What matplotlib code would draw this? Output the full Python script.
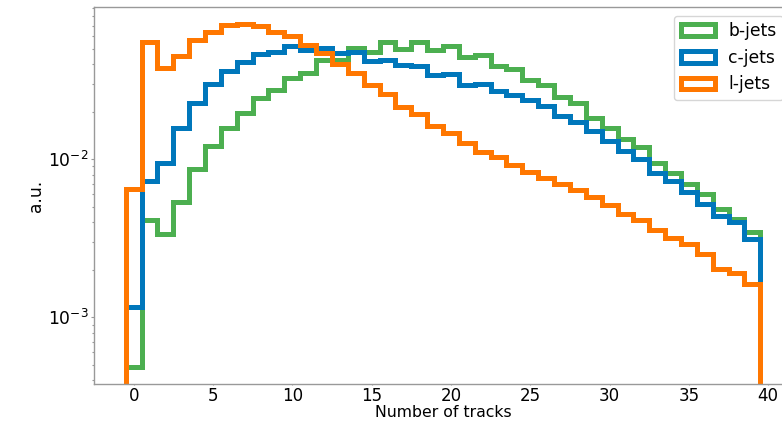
import matplotlib
matplotlib.use("Agg")
import matplotlib.pyplot as plt
import numpy as np

# Histogram bin edges (number of tracks 0..39, unit width)
edges = np.arange(-0.5, 40.5, 1.0)

# Normalised fractions per bin
b_jets = [0.000485, 0.00415, 0.00338, 0.00533, 0.00865, 0.0121, 0.0158, 0.0197,
          0.0244, 0.0273, 0.0327, 0.0351, 0.0422, 0.0426, 0.0504, 0.0473,
          0.0555, 0.0497, 0.0555, 0.0492, 0.0521, 0.0446, 0.0457, 0.0386,
          0.0374, 0.0318, 0.0296, 0.0248, 0.0227, 0.0183, 0.0158, 0.0134,
          0.0119, 0.00953, 0.00824, 0.00696, 0.00602, 0.00485, 0.0042, 0.00347]
c_jets = [0.00117, 0.00731, 0.0094, 0.0158, 0.0227, 0.0299, 0.0359, 0.0409,
          0.0462, 0.0476, 0.0523, 0.0492, 0.0504, 0.0469, 0.0478, 0.0420,
          0.0426, 0.0392, 0.0386, 0.0343, 0.0348, 0.0296, 0.0301, 0.0269,
          0.0254, 0.0238, 0.0216, 0.0187, 0.0171, 0.0151, 0.0130, 0.0113,
          0.0100, 0.00824, 0.00731, 0.00617, 0.00521, 0.0044, 0.0040, 0.00314]
l_jets = [0.00647, 0.0547, 0.0377, 0.0451, 0.0569, 0.0641, 0.0703, 0.0716,
          0.0700, 0.0641, 0.0603, 0.0529, 0.0469, 0.0400, 0.0352, 0.0296,
          0.0257, 0.0214, 0.0192, 0.0162, 0.0146, 0.0127, 0.0111, 0.0103,
          0.00917, 0.00832, 0.00756, 0.00697, 0.00638, 0.00578, 0.00514, 0.00451,
          0.00415, 0.00359, 0.00317, 0.00292, 0.00253, 0.00203, 0.00192, 0.00163]

labels = ["b-jets", "c-jets", "l-jets"]
colors = ["#4CAF50", "#0077BB", "#FF7700"]

plt.rcParams["font.family"] = ["DejaVu Sans"]
plt.rcParams["font.size"] = 12.3

fig = plt.figure(figsize=(7.82, 4.25), dpi=100)
# axes runs past the right edge of the figure, as in the reference
ax = fig.add_axes([0.1202, 0.0965, 0.8926, 0.887])

centers = edges[:-1] + 0.5
for vals, lab, col in zip([b_jets, c_jets, l_jets], labels, colors):
    ax.hist(centers, bins=edges, weights=vals, histtype="step",
            linewidth=3.6, color=col, label=lab)

ax.set_yscale("log")
ax.set_xlim(-2.5, 41.5)
ax.set_ylim(3.79e-4, 0.0917)
ax.set_xticks([0, 5, 10, 15, 20, 25, 30, 35, 40])

for s in ax.spines.values():
    s.set_color("#999999")
    s.set_linewidth(1.0)
ax.tick_params(which="both", color="#999999", length=2, width=0.8, pad=2)
ax.tick_params(which="minor", length=1.5)
ax.tick_params(axis="x", length=1, pad=1.2, labelsize=12)

ax.set_xlabel("Number of tracks", labelpad=0, fontsize=11.3)
ax.set_ylabel("a.u.", labelpad=2)
ax.legend(loc="upper right", fontsize=12.3)

fig.savefig("out.png", dpi=100)
